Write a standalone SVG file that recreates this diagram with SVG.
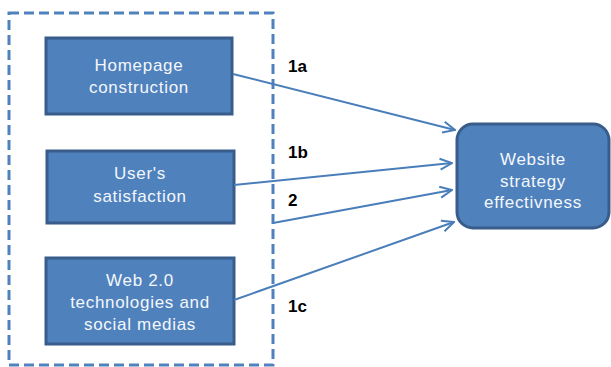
<svg xmlns="http://www.w3.org/2000/svg" width="611" height="367" viewBox="0 0 611 367">
  <defs>
    <marker id="arrow" viewBox="0 0 14 14" refX="13" refY="7" markerWidth="14" markerHeight="14" markerUnits="userSpaceOnUse" orient="auto">
      <path d="M1,1.5 L13,7 L1,12.5" fill="none" stroke="#4A7EBB" stroke-width="2"/>
    </marker>
  </defs>
  <style>
    .box { fill: #4F81BD; stroke: #385D8A; stroke-width: 3; }
    .txt { font-family: "Liberation Sans", Arial, sans-serif; font-size: 17px; letter-spacing: 0.7px; fill: #F4F7FB; text-anchor: middle; }
    .lbl { font-family: "Liberation Sans", Arial, sans-serif; font-size: 17px; font-weight: bold; fill: #000000; }
    .edge { fill: none; stroke: #4A7EBB; stroke-width: 2; marker-end: url(#arrow); }
  </style>
  <rect width="611" height="367" fill="#FFFFFF"/>

  <!-- dashed frame around the three factors -->
  <rect id="group-frame" x="9" y="13" width="264" height="352" fill="none" stroke="#4F81BD" stroke-width="3" stroke-dasharray="10,5"/>

  <g id="node-homepage">
    <rect class="box" x="46" y="38" width="186" height="76"/>
    <text class="txt" x="139" y="71">Homepage</text>
    <text class="txt" x="139" y="93">construction</text>
  </g>

  <g id="node-satisfaction">
    <rect class="box" x="47" y="151" width="187" height="72"/>
    <text class="txt" x="140" y="179">User's</text>
    <text class="txt" x="140" y="202">satisfaction</text>
  </g>

  <g id="node-web20">
    <rect class="box" x="46" y="258" width="188" height="86"/>
    <text class="txt" x="140" y="286">Web 2.0</text>
    <text class="txt" x="140" y="308">technologies and</text>
    <text class="txt" x="140" y="330">social medias</text>
  </g>

  <g id="node-effectiveness">
    <rect class="box" x="457" y="124" width="152" height="104" rx="16" ry="16"/>
    <text class="txt" x="533" y="165">Website</text>
    <text class="txt" x="533" y="187">strategy</text>
    <text class="txt" x="533" y="208">effectivness</text>
  </g>

  <g id="connectors">
    <line class="edge" x1="233" y1="74" x2="455" y2="130"/>
    <line class="edge" x1="234" y1="185" x2="452" y2="163"/>
    <line class="edge" x1="273" y1="223" x2="452" y2="190"/>
    <line class="edge" x1="234" y1="300" x2="454" y2="222"/>
    <text class="lbl" x="288" y="72">1a</text>
    <text class="lbl" x="288" y="158">1b</text>
    <text class="lbl" x="288" y="206">2</text>
    <text class="lbl" x="288" y="312">1c</text>
  </g>
</svg>
